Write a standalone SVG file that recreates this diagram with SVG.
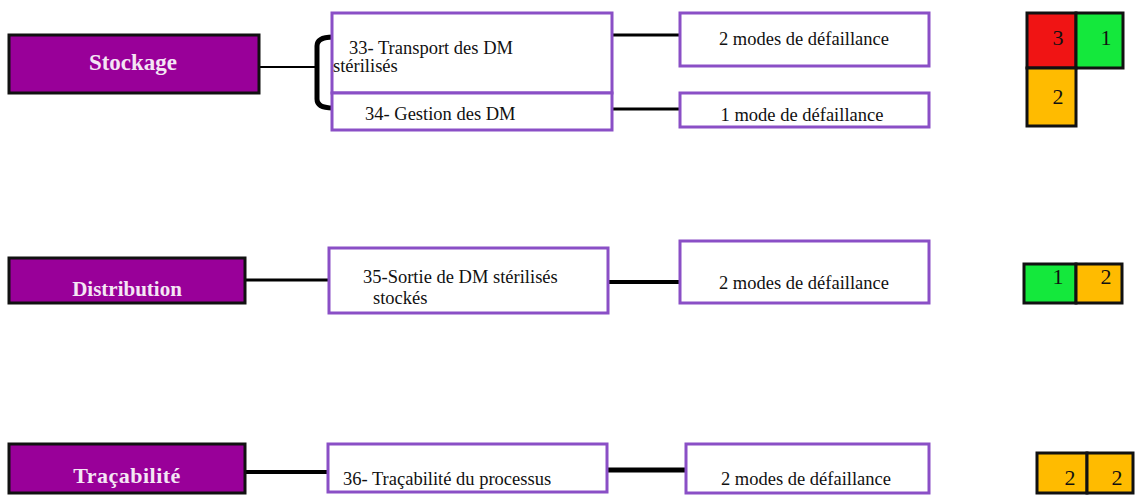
<svg xmlns="http://www.w3.org/2000/svg" width="1136" height="495" viewBox="0 0 1136 495">
  <style>
    text { font-family: "Times New Roman", "Liberation Serif", Tinos, "DejaVu Serif", serif; }
    .phase rect { fill: #990099; stroke: #111; stroke-width: 3; }
    .phase text { fill: #f4e6f4; font-weight: bold; text-anchor: middle; }
    .step rect { fill: #fff; stroke: #8a4fc6; stroke-width: 3; }
    .step text { fill: #111; font-size: 18.5px; }
    .mid { text-anchor: middle; }
    .score rect { stroke: #111; stroke-width: 3; }
    .score text { fill: #111; font-size: 22px; text-anchor: middle; }
    .red { fill: #f01414; }
    .green { fill: #14e83c; }
    .orange { fill: #ffbb00; }
    #connectors path, #connectors line { stroke: #000; fill: none; }
  </style>

  <!-- connectors -->
  <g id="connectors">
    <line x1="259" y1="67" x2="317" y2="67" stroke-width="2"/>
    <path d="M333,37 Q317,37 317,46 V99 Q317,108 333,108" stroke-width="5"/>
    <line x1="612" y1="35" x2="680" y2="35" stroke-width="3"/>
    <line x1="612" y1="109" x2="680" y2="109" stroke-width="3"/>
    <line x1="245" y1="280" x2="329" y2="280" stroke-width="3"/>
    <line x1="602" y1="282" x2="680" y2="282" stroke-width="4"/>
    <line x1="245" y1="472" x2="328" y2="472" stroke-width="4"/>
    <line x1="607" y1="470" x2="686" y2="470" stroke-width="5"/>
  </g>

  <!-- phases -->
  <g id="phase-stockage" class="phase">
    <rect x="9" y="35" width="250" height="58"/>
    <text x="133" y="70" font-size="23">Stockage</text>
  </g>
  <g id="phase-distribution" class="phase">
    <rect x="9" y="258" width="236" height="45"/>
    <text x="127" y="296" font-size="21">Distribution</text>
  </g>
  <g id="phase-tracabilite" class="phase">
    <rect x="9" y="444" width="236" height="49"/>
    <text x="127" y="483" font-size="22" letter-spacing="0.5">Traçabilité</text>
  </g>

  <!-- process steps -->
  <g id="step-33" class="step">
    <rect x="332" y="13" width="280" height="80"/>
    <text x="349" y="54">33- Transport des DM</text>
    <text x="333" y="72">stérilisés</text>
  </g>
  <g id="step-34" class="step">
    <rect x="332" y="93" width="280" height="37"/>
    <text x="365" y="120">34- Gestion des DM</text>
  </g>
  <g id="step-35" class="step">
    <rect x="329" y="248" width="279" height="65"/>
    <text x="363" y="283">35-Sortie de DM stérilisés</text>
    <text x="373" y="304">stockés</text>
  </g>
  <g id="step-36" class="step">
    <rect x="328" y="444" width="279" height="48"/>
    <text x="343" y="485">36- Traçabilité du processus</text>
  </g>

  <!-- failure mode counts -->
  <g id="modes-33" class="step">
    <rect x="680" y="13" width="249" height="53"/>
    <text class="mid" x="804" y="45">2 modes de défaillance</text>
  </g>
  <g id="modes-34" class="step">
    <rect x="680" y="93" width="249" height="34"/>
    <text class="mid" x="802" y="121">1 mode de défaillance</text>
  </g>
  <g id="modes-35" class="step">
    <rect x="680" y="241" width="249" height="62"/>
    <text class="mid" x="804" y="289">2 modes de défaillance</text>
  </g>
  <g id="modes-36" class="step">
    <rect x="686" y="444" width="243" height="49"/>
    <text class="mid" x="806" y="485">2 modes de défaillance</text>
  </g>

  <!-- criticality scores -->
  <g id="score-stockage" class="score">
    <rect class="red" x="1027" y="13" width="49" height="55"/>
    <rect class="green" x="1076" y="13" width="47" height="55"/>
    <rect class="orange" x="1027" y="68" width="49" height="58"/>
    <text x="1058" y="45">3</text>
    <text x="1106" y="45">1</text>
    <text x="1058" y="104">2</text>
  </g>
  <g id="score-distribution" class="score">
    <rect class="green" x="1024" y="264" width="52" height="39"/>
    <rect class="orange" x="1076" y="264" width="46" height="39"/>
    <text x="1058" y="284">1</text>
    <text x="1106" y="284">2</text>
  </g>
  <g id="score-tracabilite" class="score">
    <rect class="orange" x="1037" y="453" width="50" height="40"/>
    <rect class="orange" x="1087" y="453" width="46" height="40"/>
    <text x="1070" y="485">2</text>
    <text x="1117" y="485">2</text>
  </g>
</svg>
